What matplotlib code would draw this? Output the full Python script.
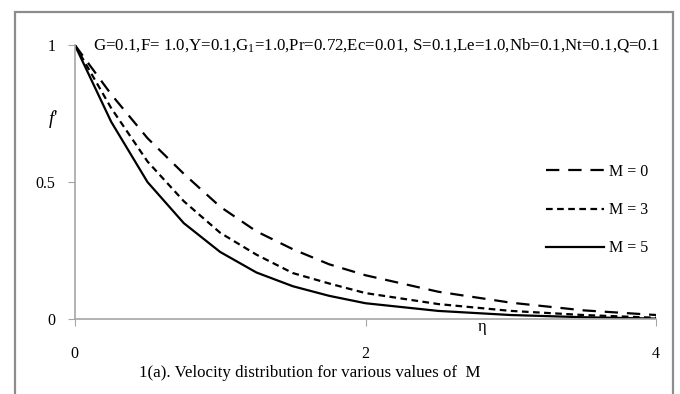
import matplotlib.pyplot as plt
from matplotlib.patches import Rectangle

plt.rcParams['font.family'] = ['Liberation Serif', 'DejaVu Serif']
plt.rcParams['mathtext.fontset'] = 'custom'
plt.rcParams['mathtext.rm'] = 'Liberation Serif'
plt.rcParams['mathtext.it'] = 'Liberation Serif:italic'

eta = [0, 0.25, 0.5, 0.75, 1.0, 1.25, 1.5, 1.75, 2.0, 2.5, 3.0, 3.5, 4.0]

f_m0 = [1, 0.82, 0.66, 0.53, 0.41, 0.32, 0.255, 0.20, 0.16, 0.10, 0.06, 0.032, 0.015]
f_m3 = [1, 0.77, 0.575, 0.43, 0.315, 0.235, 0.168, 0.13, 0.095, 0.055, 0.03, 0.015, 0.005]
f_m5 = [1, 0.72, 0.50, 0.35, 0.245, 0.17, 0.12, 0.085, 0.058, 0.03, 0.015, 0.007, 0.002]

labels = ['M = 0', 'M = 3', 'M = 5']

x_ticks = [0, 2, 4]
y_ticks = [0, 0.5, 1]
y_tick_labels = ['0', '0.5', '1']

params = ('G=0.1,F= 1.0,Y=0.1,G$_1$=1.0,Pr=0.72,Ec=0.01, '
          'S=0.1,Le=1.0,Nb=0.1,Nt=0.1,Q=0.1')
caption = '1(a). Velocity distribution for various values of  M'

fig = plt.figure(figsize=(6.8, 3.94), dpi=100)
ax = fig.add_axes([0.110, 0.190, 0.855, 0.696])

ax.plot(eta, f_m0, color='black', lw=1.6, dashes=(6, 4), label=labels[0])
ax.plot(eta, f_m3, color='black', lw=1.6, dashes=(3, 2), label=labels[1])
ax.plot(eta, f_m5, color='black', lw=1.6, label=labels[2])

ax.set_xlim(0, 4)
ax.set_ylim(0, 1)
ax.set_xticks(x_ticks)
ax.set_xticklabels([str(t) for t in x_ticks])
ax.set_yticks(y_ticks)
ax.set_yticklabels(y_tick_labels)

for side in ['top', 'right']:
    ax.spines[side].set_visible(False)
for side in ['left', 'bottom']:
    ax.spines[side].set_color('#a6a6a6')
    ax.spines[side].set_linewidth(1.2)
ax.tick_params(axis='x', direction='out', length=5, color='#a6a6a6',
               pad=14, labelsize=11.5)
ax.tick_params(axis='y', direction='out', length=5, color='#a6a6a6',
               pad=9, labelsize=11.5)

ax.text(0.124, 1.0, params, fontsize=12.2, va='center', ha='left')
ax.text(-0.15, 0.73, "$f$'", fontsize=13.5, ha='center', va='center',
        transform=ax.transData, clip_on=False)
ax.text(2.8, -0.03, '\u03b7', fontsize=12, ha='center', va='center',
        clip_on=False)

ax.legend(frameon=False, loc='upper left', bbox_to_anchor=(0.8, 0.59),
          fontsize=11.5, handlelength=3.6, handletextpad=0.3,
          labelspacing=1.4, borderaxespad=0)

fig.text(0.455, 0.053, caption, fontsize=12.2, ha='center', va='center')

fig.patches.append(Rectangle((15 / 680, -0.1), 658 / 680, 1 - 12 / 394 + 0.1,
                             transform=fig.transFigure, fill=False,
                             edgecolor='#8c8c8c', lw=1.6))

fig.savefig('out.png', dpi=100)
